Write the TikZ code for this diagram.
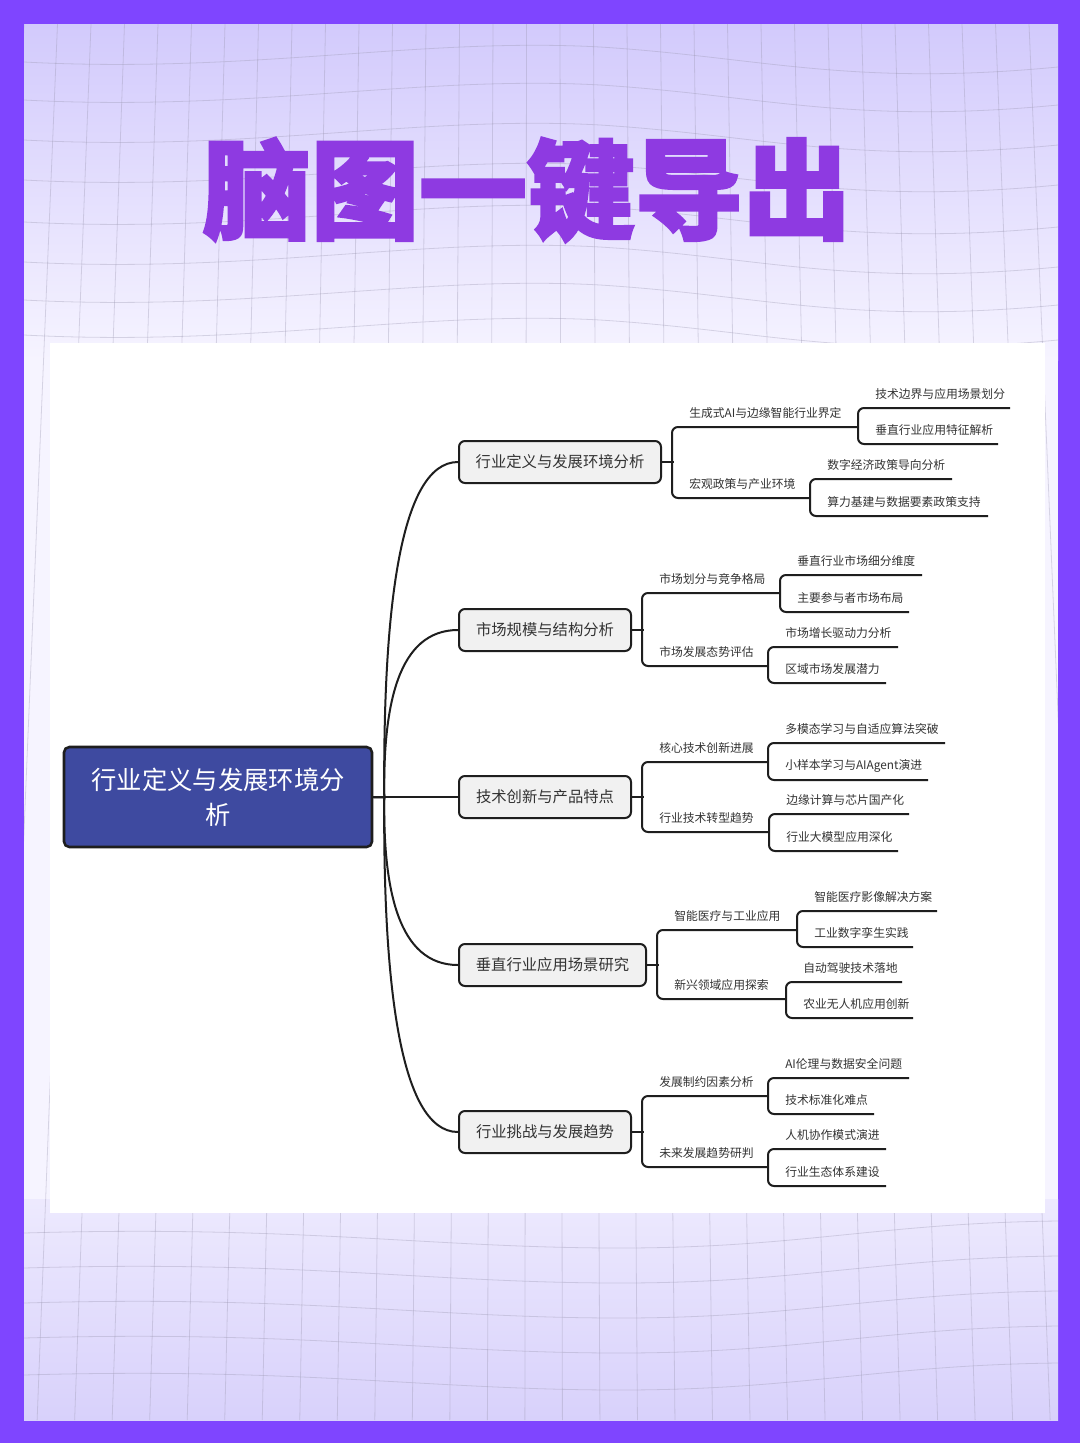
\documentclass[tikz,border=0pt]{standalone}
\usepackage{fontspec}
\newfontfamily\cjk{Noto Sans CJK SC}
\newfontfamily\titlefont{Noto Sans CJK SC}[BoldFeatures={FakeBold=2.5}]
\definecolor{framec}{HTML}{7F45FF}
\definecolor{lavtop}{HTML}{D2CAFC}
\definecolor{lavlow}{HTML}{D8D1FB}
\definecolor{lavmid}{HTML}{F6F4FF}
\definecolor{titlec}{HTML}{8E3AE1}
\definecolor{rootc}{HTML}{3E4AA0}
\definecolor{linec}{HTML}{1E1E1E}
\definecolor{txtc}{HTML}{333333}
\definecolor{boxc}{HTML}{F1F1F1}
\definecolor{gridc}{HTML}{9A96B0}
\newcommand\mmleaves[8]{%
  \node[leaf] (#8u) at (#1+17,#2-14) {#4};
  \node[leaf] (#8l) at (#1+17,#5-14) {#7};
  \draw[conn,rounded corners=4.5pt] (#3,#2) -- (#1,#2) -- (#1,#5) -- (#6,#5);
}
\newcommand\mmsub[8]{%
  \draw[conn] (#1.east) -- ++(12,0);
  \node[leaf] (#1u) at (#2+17,#3-14) {#5};
  \node[leaf] (#1l) at (#2+17,#6-14) {#8};
  \draw[conn,rounded corners=4.5pt] (#4,#3) -- (#2,#3) -- (#2,#6) -- (#7,#6);
}
\begin{document}
\begin{tikzpicture}[x=0.75pt,y=-0.75pt,
  conn/.style={line width=1.5pt, draw=linec},
  gridline/.style={draw=gridc, opacity=0.35, line width=0.6pt},
  leaf/.style={anchor=west, inner sep=0pt, text=txtc, font=\cjk\fontsize{8.85}{10}\selectfont},
  branch/.style={anchor=west, draw=linec, line width=1.5pt, fill=boxc, rounded corners=4.5pt,
     minimum height=31.5pt, inner xsep=0pt, text=txtc, font=\cjk\fontsize{11.5}{13}\selectfont},
  rootbox/.style={draw=linec, line width=1.9pt, fill=rootc, rounded corners=4pt,
     minimum width=231pt, minimum height=75pt, text=white, align=center,
     font=\cjk\fontsize{19}{26.25}\selectfont},
  titlestyle/.style={text=titlec, inner sep=0pt, font=\titlefont\bfseries\fontsize{81}{90}\selectfont}
]
\useasboundingbox (0,0) rectangle (1080,1443);
\fill[framec] (0,0) rectangle (1080,1443);
\begin{scope}
\clip (24,24) rectangle (1058,1420);
\shade[top color=lavtop, bottom color=lavmid] (24,24) rectangle (1058,360);
\fill[lavmid] (24,359) rectangle (1058,1200);
\shade[top color=lavmid!70!lavlow, bottom color=lavlow] (24,1199) rectangle (1058,1420);
\foreach \i in {0,...,31} {
  \draw[gridline] ({24+\i*33.5},24) -- ({540+(24+\i*33.5-540)*1.12},1420);
}
\foreach \y in {62,100,140,180,222,262,300,335} {
  \draw[gridline] (24,\y) .. controls (250,\y+12) and (420,\y-25) .. (600,\y-15)
     .. controls (760,\y-5) and (850,\y+25) .. (1058,\y+5);
}
\foreach \y in {1233,1268,1303,1338,1375} {
  \draw[gridline] (24,\y) .. controls (300,\y-8) and (430,\y+15) .. (620,\y+15)
     .. controls (800,\y+15) and (880,\y-10) .. (1058,\y-12);
}
\end{scope}
\fill[white] (50,343) rectangle (1045,1213);

\node[titlestyle] (title) at (527,190) {脑图一键导出};

\node[rootbox] (root) at (218,797) {行业定义与发展环境分\\析};

\node[branch, minimum width=151.5pt] (b1) at (458,462) {行业定义与发展环境分析};
\node[branch, minimum width=129pt] (b2) at (458,630) {市场规模与结构分析};
\node[branch, minimum width=129pt] (b3) at (458,797) {技术创新与产品特点};
\node[branch, minimum width=140.25pt] (b4) at (458,965) {垂直行业应用场景研究};
\node[branch, minimum width=129pt] (b5) at (458,1132) {行业挑战与发展趋势};

\draw[conn] (root.east) -- (b3.west);
\draw[conn] (root.east) -- ++(11,0) .. controls (383,620) and (398,462) .. (b1.west);
\draw[conn] (root.east) -- ++(11,0) .. controls (383,705) and (398,630) .. (b2.west);
\draw[conn] (root.east) -- ++(11,0) .. controls (383,889) and (398,965) .. (b4.west);
\draw[conn] (root.east) -- ++(11,0) .. controls (383,974) and (398,1132) .. (b5.west);

% branch 1
\mmsub{b1}{672}{427}{858}{生成式AI与边缘智能行业界定}{498}{810}{宏观政策与产业环境}
\mmleaves{858}{408}{1010}{技术边界与应用场景划分}{444}{998}{垂直行业应用特征解析}{l11}
\mmleaves{810}{479}{952}{数字经济政策导向分析}{516}{988}{算力基建与数据要素政策支持}{l12}
% branch 2
\mmsub{b2}{642}{593}{780}{市场划分与竞争格局}{666}{768}{市场发展态势评估}
\mmleaves{780}{575}{922}{垂直行业市场细分维度}{612}{909}{主要参与者市场布局}{l21}
\mmleaves{768}{647}{898}{市场增长驱动力分析}{683}{886}{区域市场发展潜力}{l22}
% branch 3
\mmsub{b3}{642}{762}{768}{核心技术创新进展}{832}{769}{行业技术转型趋势}
\mmleaves{768}{743}{945}{多模态学习与自适应算法突破}{780}{928}{小样本学习与AIAgent演进}{l31}
\mmleaves{769}{814}{909}{边缘计算与芯片国产化}{851}{898}{行业大模型应用深化}{l32}
% branch 4
\mmsub{b4}{657}{930}{797}{智能医疗与工业应用}{999}{786}{新兴领域应用探索}
\mmleaves{797}{911}{937}{智能医疗影像解决方案}{947}{913}{工业数字孪生实践}{l41}
\mmleaves{786}{982}{902}{自动驾驶技术落地}{1018}{913}{农业无人机应用创新}{l42}
% branch 5
\mmsub{b5}{642}{1096}{768}{发展制约因素分析}{1167}{768}{未来发展趋势研判}
\mmleaves{768}{1078}{909}{AI伦理与数据安全问题}{1114}{874}{技术标准化难点}{l51}
\mmleaves{768}{1149}{886}{人机协作模式演进}{1186}{886}{行业生态体系建设}{l52}
\end{tikzpicture}
\end{document}
